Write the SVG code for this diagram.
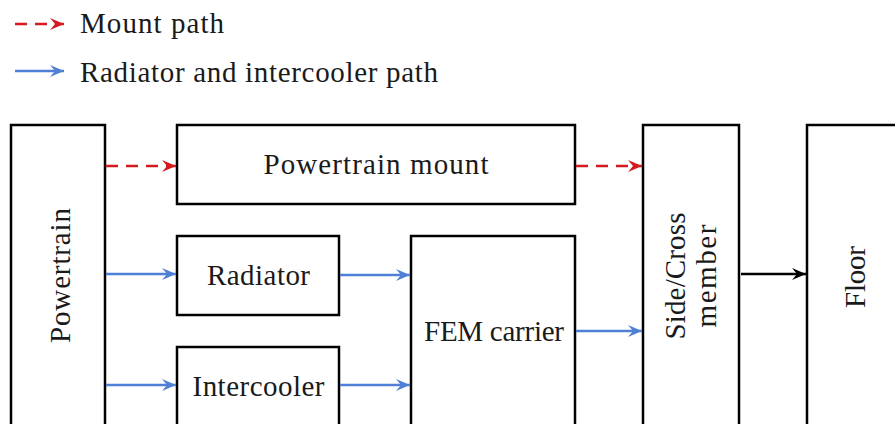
<svg xmlns="http://www.w3.org/2000/svg" width="895" height="424" viewBox="0 0 895 424">
<defs>
<style>
.box{fill:#fff;stroke:#000;stroke-width:2.5}
.t{font-family:"Liberation Serif","DejaVu Serif",serif;font-size:29px;fill:#1a1a1a}
.c{text-anchor:middle}
.red{stroke:#d21a1f;stroke-width:2.4;fill:none;stroke-dasharray:12 8}
.blue{stroke:#4f80d6;stroke-width:2.4;fill:none}
.blk{stroke:#000;stroke-width:2.4;fill:none}
</style>
<marker id="ar" viewBox="0 0 14 12" refX="14" refY="6" markerWidth="14" markerHeight="12" markerUnits="userSpaceOnUse" orient="auto"><path d="M0,0 L14,6 L0,12 L5,6 z" fill="#d21a1f"/></marker>
<marker id="ab" viewBox="0 0 14 12" refX="14" refY="6" markerWidth="14" markerHeight="12" markerUnits="userSpaceOnUse" orient="auto"><path d="M0,0 L14,6 L0,12 L5,6 z" fill="#4f80d6"/></marker>
<marker id="ak" viewBox="0 0 14 12" refX="14" refY="6" markerWidth="14" markerHeight="12" markerUnits="userSpaceOnUse" orient="auto"><path d="M0,0 L14,6 L0,12 L5,6 z" fill="#000"/></marker>
</defs>
<rect width="895" height="424" fill="#fff"/>
<g id="legend">
<line class="red" x1="15" y1="24" x2="64" y2="24" marker-end="url(#ar)"/>
<text class="t" x="80" y="33" textLength="144">Mount path</text>
<line class="blue" x1="15" y1="71" x2="64" y2="71" marker-end="url(#ab)"/>
<text class="t" x="80" y="82" textLength="358">Radiator and intercooler path</text>
</g>
<g id="powertrain"><rect class="box" x="11" y="125" width="94" height="310"/><text class="t c" transform="translate(70,275.5) rotate(-90)" textLength="135">Powertrain</text></g>
<g id="mount"><rect class="box" x="177" y="125" width="398" height="79"/><text class="t c" x="376" y="174" textLength="225">Powertrain mount</text></g>
<g id="radiator"><rect class="box" x="177" y="236" width="162" height="79"/><text class="t c" x="258.5" y="285" textLength="103">Radiator</text></g>
<g id="intercooler"><rect class="box" x="177" y="347" width="162" height="90"/><text class="t c" x="258.5" y="396" textLength="132">Intercooler</text></g>
<g id="fem"><rect class="box" x="411" y="236" width="164" height="200"/><text class="t c" x="494" y="341" textLength="140">FEM carrier</text></g>
<g id="side"><rect class="box" x="643" y="125" width="96" height="310"/><text class="t c" transform="translate(685,276) rotate(-90)" textLength="127">Side/Cross</text><text class="t c" transform="translate(716,276) rotate(-90)" textLength="103">member</text></g>
<g id="floor"><rect class="box" x="807" y="125" width="100" height="310"/><text class="t c" transform="translate(865,277) rotate(-90)" textLength="62">Floor</text></g>
<g id="connectors">
<line class="red" x1="106" y1="166" x2="176" y2="166" marker-end="url(#ar)"/>
<line class="red" x1="576" y1="166" x2="642" y2="166" marker-end="url(#ar)"/>
<line class="blue" x1="106" y1="274" x2="176" y2="274" marker-end="url(#ab)"/>
<line class="blue" x1="106" y1="385" x2="176" y2="385" marker-end="url(#ab)"/>
<line class="blue" x1="340" y1="275" x2="410" y2="275" marker-end="url(#ab)"/>
<line class="blue" x1="340" y1="385" x2="410" y2="385" marker-end="url(#ab)"/>
<line class="blue" x1="576" y1="331" x2="642" y2="331" marker-end="url(#ab)"/>
<line class="blk" x1="741" y1="274" x2="806" y2="274" marker-end="url(#ak)"/>
</g>
</svg>
